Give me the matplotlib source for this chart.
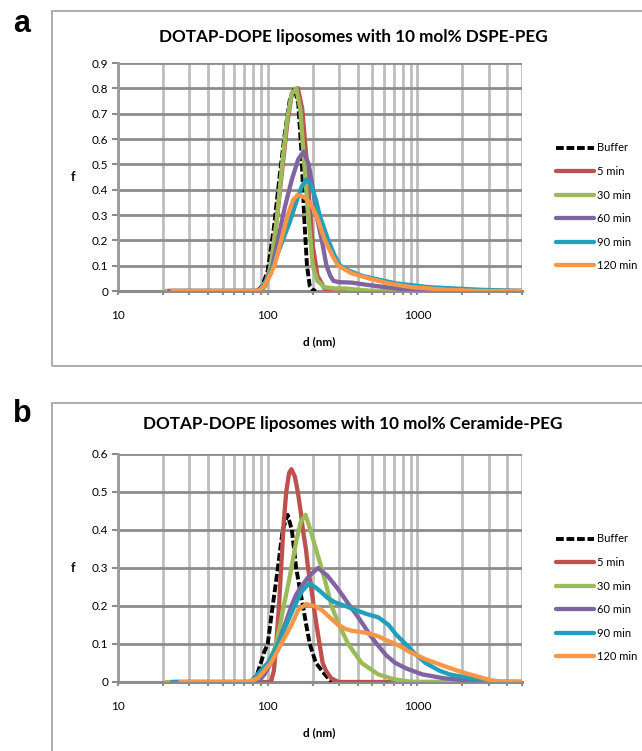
import matplotlib
matplotlib.use("Agg")
import matplotlib.pyplot as plt
from matplotlib.patches import Rectangle
import numpy as np

plt.rcParams['font.family'] = ['Lato', 'DejaVu Sans']

labels = ["Buffer", "5 min", "30 min", "60 min", "90 min", "120 min"]
colors = ["black", "#C0504D", "#9BBB59", "#8064A2", "#21A0BC", "#F79646"]

# ---------- Panel a (DSPE-PEG) ----------
a_buf_d = [73, 85, 92, 100, 110, 120, 130, 140, 151, 160, 168, 175, 183, 191, 200, 210]
a_buf_f = [0, 0, 0.02, 0.08, 0.25, 0.45, 0.62, 0.75, 0.80, 0.74, 0.55, 0.30, 0.10, 0.02, 0.005, 0]
a_5_d = [21, 60, 88, 95, 105, 115, 125, 135, 145, 159, 170, 180, 190, 200, 215, 240, 300, 1000, 5000]
a_5_f = [0, 0, 0, 0.02, 0.10, 0.28, 0.48, 0.66, 0.78, 0.80, 0.72, 0.55, 0.35, 0.18, 0.06, 0.01, 0, 0, 0]
a_30_d = [21, 60, 90, 97, 105, 115, 125, 135, 145, 155, 165, 173, 181, 190, 200, 215, 240, 280, 330, 400, 500, 5000]
a_30_f = [0, 0, 0, 0.02, 0.10, 0.28, 0.50, 0.68, 0.78, 0.80, 0.72, 0.55, 0.40, 0.25, 0.10, 0.04, 0.015, 0.01, 0.01, 0.005, 0, 0]
a_60_d = [22, 60, 88, 95, 105, 117, 130, 145, 160, 174, 188, 201, 215, 230, 247, 262, 275, 300, 366, 450, 719, 1100, 5000]
a_60_f = [0, 0, 0, 0.02, 0.07, 0.20, 0.33, 0.44, 0.52, 0.55, 0.50, 0.40, 0.28, 0.20, 0.10, 0.06, 0.04, 0.035, 0.033, 0.025, 0.01, 0, 0]
a_90_d = [23, 60, 88, 100, 112, 126, 140, 155, 168, 181, 195, 210, 222, 254, 280, 305, 350, 427, 550, 719, 1200, 2600, 5000]
a_90_f = [0, 0, 0, 0.05, 0.12, 0.20, 0.27, 0.35, 0.41, 0.44, 0.42, 0.36, 0.30, 0.20, 0.14, 0.10, 0.08, 0.06, 0.045, 0.03, 0.015, 0.005, 0]
a_120_d = [23, 60, 86, 95, 103, 111, 123, 136, 148, 159, 175, 191, 211, 241, 270, 296, 363, 473, 640, 920, 1550, 2600, 5000]
a_120_f = [0, 0, 0, 0.02, 0.06, 0.10, 0.20, 0.30, 0.36, 0.38, 0.37, 0.35, 0.30, 0.20, 0.14, 0.10, 0.07, 0.05, 0.03, 0.015, 0.005, 0, 0]

# ---------- Panel b (Ceramide-PEG) ----------
b_buf_d = [77, 85, 90, 95, 100, 108, 117, 126, 136, 145, 155, 163, 172, 181, 191, 210, 241, 267]
b_buf_f = [0, 0.02, 0.05, 0.08, 0.10, 0.20, 0.30, 0.40, 0.44, 0.40, 0.30, 0.25, 0.20, 0.15, 0.10, 0.05, 0.02, 0]
b_5_d = [90, 100, 105, 110, 114, 119, 123, 128, 133, 139, 144, 152, 159, 166, 172, 180, 186, 195, 203, 212, 222, 233, 245, 265, 297, 1000, 5000]
b_5_f = [0, 0, 0, 0.03, 0.10, 0.20, 0.30, 0.42, 0.50, 0.55, 0.56, 0.54, 0.50, 0.45, 0.40, 0.35, 0.30, 0.25, 0.20, 0.15, 0.10, 0.05, 0.03, 0.01, 0, 0, 0]
b_30_d = [21, 60, 86, 95, 105, 114, 121, 128, 136, 144, 155, 166, 179, 193, 210, 229, 248, 267, 300, 345, 424, 548, 700, 920, 5000]
b_30_f = [0, 0, 0, 0.02, 0.06, 0.10, 0.15, 0.20, 0.25, 0.30, 0.37, 0.42, 0.44, 0.40, 0.35, 0.30, 0.25, 0.20, 0.15, 0.10, 0.05, 0.02, 0.007, 0, 0]
b_60_d = [23, 60, 86, 95, 105, 117, 130, 144, 155, 167, 190, 217, 250, 288, 320, 354, 395, 436, 480, 536, 620, 713, 850, 1080, 1500, 2020, 2800, 5000]
b_60_f = [0, 0, 0, 0.02, 0.05, 0.10, 0.15, 0.20, 0.23, 0.25, 0.28, 0.30, 0.28, 0.25, 0.225, 0.20, 0.175, 0.15, 0.125, 0.10, 0.07, 0.05, 0.035, 0.02, 0.01, 0.005, 0, 0]
b_90_d = [23, 60, 77, 90, 100, 117, 133, 151, 170, 190, 215, 254, 281, 330, 383, 450, 549, 643, 720, 835, 960, 1135, 1400, 1640, 2240, 3350, 5000]
b_90_f = [0, 0, 0, 0.03, 0.05, 0.10, 0.15, 0.20, 0.24, 0.26, 0.245, 0.22, 0.21, 0.20, 0.19, 0.18, 0.17, 0.15, 0.125, 0.10, 0.075, 0.05, 0.03, 0.02, 0.01, 0, 0]
b_120_d = [26, 60, 73, 86, 95, 105, 114, 123, 133, 144, 160, 181, 205, 229, 260, 296, 330, 363, 410, 447, 500, 549, 620, 713, 800, 878, 1000, 1130, 1330, 1560, 1850, 2240, 2650, 3050, 3500, 5000]
b_120_f = [0, 0, 0, 0.01, 0.03, 0.05, 0.075, 0.10, 0.125, 0.15, 0.19, 0.205, 0.20, 0.19, 0.17, 0.15, 0.14, 0.135, 0.132, 0.13, 0.125, 0.12, 0.11, 0.10, 0.09, 0.08, 0.07, 0.06, 0.05, 0.04, 0.03, 0.02, 0.012, 0.005, 0.002, 0]

panel_a = [(a_buf_d, a_buf_f), (a_5_d, a_5_f), (a_30_d, a_30_f),
           (a_60_d, a_60_f), (a_90_d, a_90_f), (a_120_d, a_120_f)]
panel_b = [(b_buf_d, b_buf_f), (b_5_d, b_5_f), (b_30_d, b_30_f),
           (b_60_d, b_60_f), (b_90_d, b_90_f), (b_120_d, b_120_f)]

W, H = 642, 751
fig = plt.figure(figsize=(W / 100, H / 100), dpi=100)
fig.patch.set_facecolor("white")


def fx(px):
    return px / W


def fy(py):
    return 1 - py / H


# panel frames
fig.add_artist(Rectangle((fx(52), fy(366)), fx(700 - 52), (366 - 11) / H,
                         transform=fig.transFigure, fill=False,
                         edgecolor="#A6A6A6", lw=1.3))
fig.add_artist(Rectangle((fx(52), fy(800)), fx(700 - 52), (800 - 403) / H,
                         transform=fig.transFigure, fill=False,
                         edgecolor="#A6A6A6", lw=1.3))


def make_panel(top_px, bottom_px, series, ymax, title, title_y, letter, letter_y, leg_top):
    ax = fig.add_axes([fx(118), fy(bottom_px), fx(522 - 118), (bottom_px - top_px) / H])
    ax.set_xscale("log")
    ax.set_xlim(10, 5000)
    ax.set_ylim(0, ymax)
    # grid
    vlines = [m * 10 ** e for e in (1, 2, 3) for m in range(1, 10) if m * 10 ** e <= 5000]
    for v in vlines:
        ax.axvline(v, color="#BDBDBD", lw=2.0, zorder=0)
    yt = np.round(np.arange(0, ymax + 1e-9, 0.1), 1)
    for y in yt[1:]:
        ax.axhline(y, color="#8C8C8C", lw=2.0, zorder=0)
    for s in ("top", "right"):
        ax.spines[s].set_visible(False)
    ax.spines["left"].set_color("#9A9A9A")
    ax.spines["left"].set_linewidth(2.0)
    ax.spines["bottom"].set_color("#8C8C8C")
    ax.spines["bottom"].set_linewidth(2.2)
    ax.set_yticks(yt)
    ax.set_yticklabels([("0" if v == 0 else f"{v:.1f}") for v in yt], fontsize=8.5)
    ax.tick_params(axis="y", length=4, width=1.5, color="#8C8C8C", pad=3)
    ax.set_xticks([10, 100, 1000])
    ax.set_xticklabels(["10", "100", "1000"], fontsize=8.5)
    ax.tick_params(axis="x", which="major", length=3, width=1.5, color="#8C8C8C", pad=11)
    ax.set_xticks(vlines, minor=True)
    ax.tick_params(axis="x", which="minor", length=3, width=1.5, color="#8C8C8C")
    ax.xaxis.set_minor_formatter(plt.NullFormatter())

    handles = []
    for i, (d, f) in enumerate(series):
        if i == 0:
            ln, = ax.plot(d, f, color=colors[i], lw=2.8, ls=(0, (2.0, 0.7)),
                          label=labels[i], zorder=3, solid_joinstyle="round")
        else:
            ln, = ax.plot(d, f, color=colors[i], lw=3.1, label=labels[i],
                          zorder=3 + i, solid_joinstyle="round", solid_capstyle="round")
        handles.append(ln)

    ax.text(-0.111, 0.5, "f", transform=ax.transAxes, fontsize=9,
            fontweight="bold", ha="center", va="center")
    ax.text(0.4975, -(342 - 291) / 228, "d (nm)", transform=ax.transAxes,
            fontsize=8.5, fontweight="bold", ha="center", va="center")
    fig.text(fx(353), fy(title_y), title, fontsize=12.3, fontweight="bold",
             ha="center", va="center")
    fig.text(fx(22), fy(letter_y), letter, fontsize=22, fontweight="bold",
             ha="center", va="center", family=["Liberation Sans", "DejaVu Sans"])
    fig.legend(handles=handles, loc="upper left",
               bbox_to_anchor=(fx(552), fy(leg_top)), frameon=False,
               fontsize=8, handlelength=3.4, handletextpad=0.25,
               labelspacing=1.13, borderaxespad=0)
    return ax


make_panel(63, 291, panel_a, 0.9,
           "DOTAP-DOPE liposomes with 10 mol% DSPE-PEG", 37, "a", 24, 138)
make_panel(454, 682, panel_b, 0.6,
           "DOTAP-DOPE liposomes with 10 mol% Ceramide-PEG", 424, "b", 414, 529)

fig.savefig("out.png", dpi=100, facecolor="white")
